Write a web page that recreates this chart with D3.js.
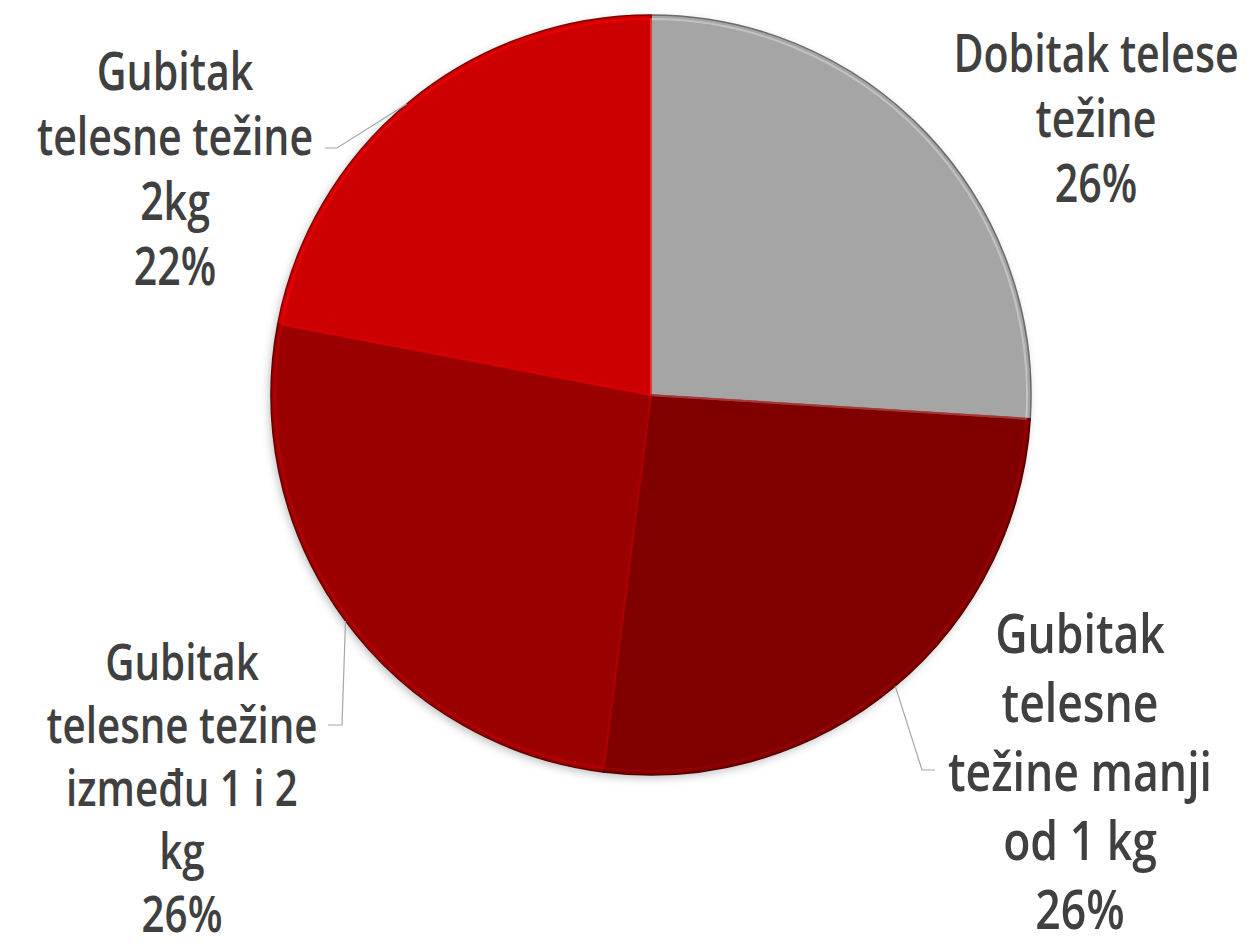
<!DOCTYPE html>
<html>
<head>
<meta charset="utf-8">
<script src="https://cdn.jsdelivr.net/npm/d3@7"></script>
<style>
  body { margin: 0; background: #fff; }
  svg { display: block; }
  .lbl { font-family: "Open Sans", sans-serif; font-weight: 600; fill: #404040; }
  .leader { fill: none; stroke: #a6a6a6; stroke-width: 1.2; }
</style>
</head>
<body>
<svg width="1260" height="947"></svg>
<script>
// data
var categories = ["Dobitak telese težine", "Gubitak telesne težine manji od 1 kg", "Gubitak telesne težine između 1 i 2 kg", "Gubitak telesne težine 2kg"];
var values = [26, 26, 26, 22];
var labelLines = [
  ["Dobitak telese", "težine"],
  ["Gubitak", "telesne", "težine manji", "od 1 kg"],
  ["Gubitak", "telesne težine", "između 1 i 2", "kg"],
  ["Gubitak", "telesne težine", "2kg"]
];
var colors = ["#a5a5a5", "#800000", "#9a0000", "#cc0000"];

window.onload = function () {
var svg = d3.select('svg');
var cx = 651, cy = 395, r = 380;

var defs = svg.append('defs');
var shadow = defs.append('filter').attr('id', 'shadow')
  .attr('x', '-10%').attr('y', '-10%').attr('width', '120%').attr('height', '120%');
shadow.append('feDropShadow')
  .attr('dx', -2).attr('dy', 3).attr('stdDeviation', 4)
  .attr('flood-color', '#000').attr('flood-opacity', 0.25);

var pie = d3.pie().sort(null).value(function (d) { return d; });
var arcs = pie(values);
var arc = d3.arc().innerRadius(0).outerRadius(r);
var arcInner = d3.arc().innerRadius(0).outerRadius(r - 4);

var g = svg.append('g').attr('transform', 'translate(' + cx + ',' + cy + ')');

g.append('circle').attr('r', r).attr('fill', '#888').attr('filter', 'url(#shadow)');

g.selectAll('path.slice')
  .data(arcs)
  .enter().append('path')
  .attr('class', 'slice')
  .attr('d', arc)
  .attr('fill', function (d, i) { return colors[i]; })
  .attr('stroke', function (d, i) { return d3.color(colors[i]).darker(1.2); })
  .attr('stroke-width', 1.5);

// bevel highlight
g.selectAll('path.hl')
  .data(arcs)
  .enter().append('path')
  .attr('class', 'hl')
  .attr('d', arcInner)
  .attr('fill', 'none')
  .attr('stroke', function (d, i) { return d3.color(colors[i]).brighter(0.8); })
  .attr('stroke-width', 2)
  .attr('stroke-opacity', 0.55);

// labels
var labelPos = [
  { x: 1096, y: 52, size: 52, gap: 65 },
  { x: 1080, y: 632, size: 55, scale: 0.81, gap: 69 },
  { x: 182, y: 660, size: 51, gap: 63 },
  { x: 175, y: 70, size: 52, gap: 65 }
];

labelPos.forEach(function (p, i) {
  var lines = labelLines[i].concat([d3.format('.0f')(values[i]) + '%']);
  var t = svg.append('g')
    .attr('transform', 'translate(' + p.x + ',' + p.y + ') scale(' + (p.scale || 0.79) + ',1)');
  t.selectAll('text')
    .data(lines)
    .enter().append('text')
    .attr('class', 'lbl')
    .attr('text-anchor', 'middle')
    .attr('dominant-baseline', 'central')
    .attr('y', function (d, j) { return j * p.gap; })
    .attr('font-size', p.size)
    .text(function (d) { return d; });
});

// leader lines: from label edge to pie rim at a given angle
var leaders = [
  { slice: 1, angle: 140, pts: [[935, 770], [922, 770]] },
  { slice: 2, angle: 233.5, pts: [[328, 725], [342, 725]] },
  { slice: 3, angle: 320, pts: [[325, 148], [337, 148]] }
];
var line = d3.line();
leaders.forEach(function (l) {
  var e = d3.pointRadial(l.angle * Math.PI / 180, r);
  svg.append('path')
    .attr('class', 'leader')
    .attr('d', line(l.pts.concat([[cx + e[0], cy + e[1]]])));
});
};
</script>
</body>
</html>
